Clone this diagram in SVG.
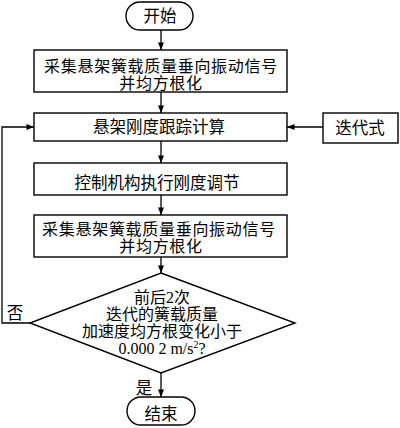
<svg xmlns="http://www.w3.org/2000/svg" width="400" height="428" viewBox="0 0 400 428">
<style>
.b{fill:#fff;stroke:#000;stroke-width:1.4}
.c{fill:none;stroke:#000;stroke-width:1.3}
text{font-family:"Liberation Serif","Noto Sans CJK SC",serif;font-size:16.5px;fill:#000;text-anchor:middle}
.d{font-size:16px}
.w{font-size:16px;letter-spacing:0.7px}
</style>
<defs>
<marker id="a" viewBox="0 0 10 8" refX="10" refY="4" markerWidth="8" markerHeight="6" markerUnits="userSpaceOnUse" orient="auto">
<path d="M0,0 L10,4 L0,8 Z" fill="#000"/>
</marker>
</defs>
<rect width="400" height="428" fill="#fff"/>
<g id="connectors">
<path class="c" d="M161,30 V50" marker-end="url(#a)"/>
<path class="c" d="M161,92 V113" marker-end="url(#a)"/>
<path class="c" d="M161,141 V163" marker-end="url(#a)"/>
<path class="c" d="M161,195 V215" marker-end="url(#a)"/>
<path class="c" d="M161,257 V273" marker-end="url(#a)"/>
<path class="c" d="M161,373 V397" marker-end="url(#a)"/>
<path class="c" d="M323,127 H287" marker-end="url(#a)"/>
<path class="c" d="M30,323 H2 V127 H34" marker-end="url(#a)"/>
<text x="15" y="319">否</text>
<text x="144" y="394">是</text>
</g>
<g id="start">
<rect class="b" x="126" y="2" width="67" height="28" rx="14"/>
<text x="160" y="22">开始</text>
</g>
<g id="collect1">
<rect class="b" x="34" y="50" width="253" height="42"/>
<text class="w" x="161" y="72">采集悬架簧载质量垂向振动信号</text>
<text class="w" x="161" y="89">并均方根化</text>
</g>
<g id="track">
<rect class="b" x="34" y="113" width="253" height="28"/>
<text x="159" y="133">悬架刚度跟踪计算</text>
</g>
<g id="iter">
<rect class="b" x="323" y="113" width="75" height="30"/>
<text x="360" y="134">迭代式</text>
</g>
<g id="control">
<rect class="b" x="34" y="163" width="253" height="32"/>
<text x="157" y="189">控制机构执行刚度调节</text>
</g>
<g id="collect2">
<rect class="b" x="34" y="215" width="253" height="42"/>
<text class="w" x="159" y="235">采集悬架簧载质量垂向振动信号</text>
<text class="w" x="161" y="252">并均方根化</text>
</g>
<g id="decision">
<polygon class="b" points="161,273 295,323 161,373 30,323"/>
<text class="d" x="162" y="303">前后2次</text>
<text class="d" x="162" y="320">迭代的簧载质量</text>
<text class="d" x="162" y="337">加速度均方根变化小于</text>
<text class="d" x="162" y="354">0.000 2 m/s<tspan font-size="10" dy="-6">2</tspan><tspan dy="6">?</tspan></text>
</g>
<g id="end">
<rect class="b" x="127" y="397" width="68" height="28" rx="14"/>
<text x="161" y="420">结束</text>
</g>
</svg>
